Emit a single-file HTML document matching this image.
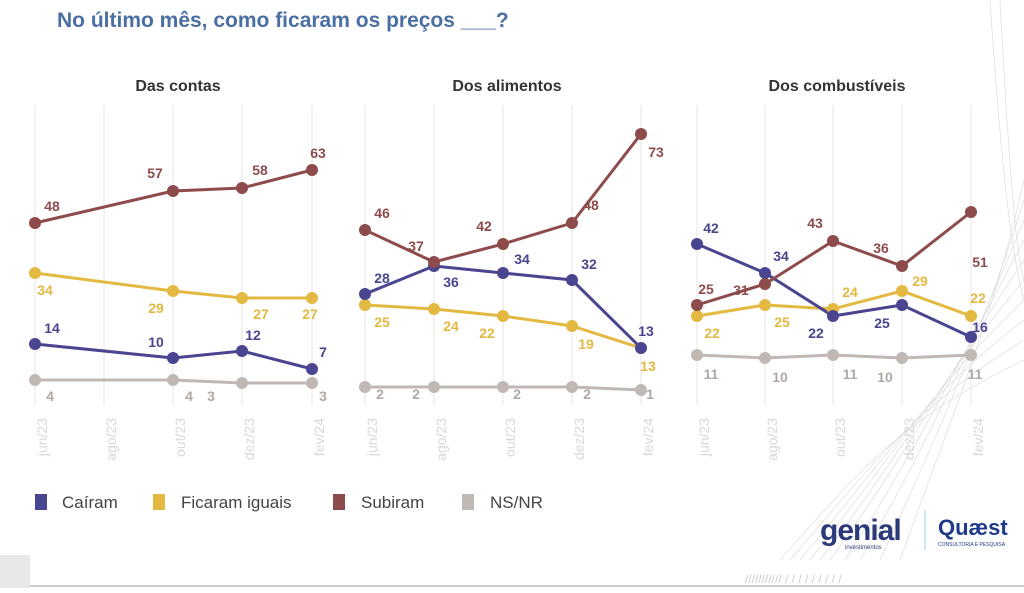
<!DOCTYPE html>
<html><head><meta charset="utf-8"><style>
body{margin:0;background:#fff;width:1024px;height:588px;overflow:hidden;font-family:"Liberation Sans",sans-serif}
</style></head><body>
<svg width="1024" height="588" viewBox="0 0 1024 588" xmlns="http://www.w3.org/2000/svg" font-family="Liberation Sans, sans-serif">
<rect width="1024" height="588" fill="#fff"/>
<!-- decorative curves bottom right -->
<g stroke="#d4d4d4" stroke-width="0.7" fill="none" opacity="0.8">
<path d="M780 560 C860 470 900 420 1024 360"/><path d="M790 560 C870 468 910 410 1024 340"/>
<path d="M800 560 C880 465 920 400 1024 320"/><path d="M810 560 C890 460 930 390 1024 300"/>
<path d="M820 560 C900 455 940 380 1024 280"/><path d="M830 560 C910 450 950 370 1024 260"/>
<path d="M845 560 C920 445 960 360 1024 240"/><path d="M860 560 C930 440 970 350 1024 220"/>
<path d="M880 560 C940 430 980 340 1024 200"/><path d="M900 560 C950 420 990 330 1024 180"/>
<path d="M990 0 C1000 150 1010 250 1024 300"/><path d="M1000 0 C1008 150 1015 250 1024 280"/>
</g>
<text x="57" y="27" font-size="21" font-weight="bold" fill="#4a6fa5">No último mês, como ficaram os preços ___?</text>
<g font-size="16" font-weight="bold" fill="#333" text-anchor="middle">
<text x="178" y="91">Das contas</text><text x="507" y="91">Dos alimentos</text><text x="837" y="91">Dos combustíveis</text>
</g>
<!-- grid -->
<g stroke="#e6e6e6" stroke-width="1">
<line x1="35" y1="105" x2="35" y2="405"/><line x1="104" y1="105" x2="104" y2="405"/><line x1="173" y1="105" x2="173" y2="405"/><line x1="242" y1="105" x2="242" y2="405"/><line x1="312" y1="105" x2="312" y2="405"/>
<line x1="365" y1="105" x2="365" y2="405"/><line x1="434" y1="105" x2="434" y2="405"/><line x1="503" y1="105" x2="503" y2="405"/><line x1="572" y1="105" x2="572" y2="405"/><line x1="641" y1="105" x2="641" y2="405"/>
<line x1="697" y1="105" x2="697" y2="405"/><line x1="765" y1="105" x2="765" y2="405"/><line x1="833" y1="105" x2="833" y2="405"/><line x1="902" y1="105" x2="902" y2="405"/><line x1="971" y1="105" x2="971" y2="405"/>
</g>
<!-- tick labels -->
<g font-size="14" fill="#d8d8d8" text-anchor="end">
<text transform="translate(47,418) rotate(-90)">jun/23</text><text transform="translate(116,418) rotate(-90)">ago/23</text><text transform="translate(185,418) rotate(-90)">out/23</text><text transform="translate(254,418) rotate(-90)">dez/23</text><text transform="translate(324,418) rotate(-90)">fev/24</text>
<text transform="translate(377,418) rotate(-90)">jun/23</text><text transform="translate(446,418) rotate(-90)">ago/23</text><text transform="translate(515,418) rotate(-90)">out/23</text><text transform="translate(584,418) rotate(-90)">dez/23</text><text transform="translate(653,418) rotate(-90)">fev/24</text>
<text transform="translate(709,418) rotate(-90)">jun/23</text><text transform="translate(777,418) rotate(-90)">ago/23</text><text transform="translate(845,418) rotate(-90)">out/23</text><text transform="translate(914,418) rotate(-90)">dez/23</text><text transform="translate(983,418) rotate(-90)">fev/24</text>
</g>
<!-- series: y = 394 - 3.56v -->
<g fill="none" stroke-width="3">
<!-- Contas -->
<polyline stroke="#c0b8b4" points="35,380 173,380 242,383 312,383"/>
<polyline stroke="#4a4590" points="35,344 173,358 242,351 312,369"/>
<polyline stroke="#e3b941" points="35,273 173,291 242,298 312,298"/>
<polyline stroke="#8e4b4b" points="35,223 173,191 242,188 312,170"/>
<!-- Alimentos -->
<polyline stroke="#c0b8b4" points="365,387 434,387 503,387 572,387 641,390"/>
<polyline stroke="#e3b941" points="365,305 434,309 503,316 572,326 641,348"/>
<polyline stroke="#4a4590" points="365,294 434,266 503,273 572,280 641,348"/>
<polyline stroke="#8e4b4b" points="365,230 434,262 503,244 572,223 641,134"/>
<!-- Combustiveis -->
<polyline stroke="#c0b8b4" points="697,355 765,358 833,355 902,358 971,355"/>
<polyline stroke="#e3b941" points="697,316 765,305 833,309 902,291 971,316"/>
<polyline stroke="#4a4590" points="697,244 765,273 833,316 902,305 971,337"/>
<polyline stroke="#8e4b4b" points="697,305 765,284 833,241 902,266 971,212"/>
</g>
<g>
<g fill="#c0b8b4"><circle cx="35" cy="380" r="6"/><circle cx="173" cy="380" r="6"/><circle cx="242" cy="383" r="6"/><circle cx="312" cy="383" r="6"/>
<circle cx="365" cy="387" r="6"/><circle cx="434" cy="387" r="6"/><circle cx="503" cy="387" r="6"/><circle cx="572" cy="387" r="6"/><circle cx="641" cy="390" r="6"/>
<circle cx="697" cy="355" r="6"/><circle cx="765" cy="358" r="6"/><circle cx="833" cy="355" r="6"/><circle cx="902" cy="358" r="6"/><circle cx="971" cy="355" r="6"/></g>
<g fill="#e3b941"><circle cx="35" cy="273" r="6"/><circle cx="173" cy="291" r="6"/><circle cx="242" cy="298" r="6"/><circle cx="312" cy="298" r="6"/>
<circle cx="365" cy="305" r="6"/><circle cx="434" cy="309" r="6"/><circle cx="503" cy="316" r="6"/><circle cx="572" cy="326" r="6"/><circle cx="641" cy="348" r="6"/>
<circle cx="697" cy="316" r="6"/><circle cx="765" cy="305" r="6"/><circle cx="833" cy="309" r="6"/><circle cx="902" cy="291" r="6"/><circle cx="971" cy="316" r="6"/></g>
<g fill="#4a4590"><circle cx="35" cy="344" r="6"/><circle cx="173" cy="358" r="6"/><circle cx="242" cy="351" r="6"/><circle cx="312" cy="369" r="6"/>
<circle cx="365" cy="294" r="6"/><circle cx="434" cy="266" r="6"/><circle cx="503" cy="273" r="6"/><circle cx="572" cy="280" r="6"/><circle cx="641" cy="348" r="6"/>
<circle cx="697" cy="244" r="6"/><circle cx="765" cy="273" r="6"/><circle cx="833" cy="316" r="6"/><circle cx="902" cy="305" r="6"/><circle cx="971" cy="337" r="6"/></g>
<g fill="#8e4b4b"><circle cx="35" cy="223" r="6"/><circle cx="173" cy="191" r="6"/><circle cx="242" cy="188" r="6"/><circle cx="312" cy="170" r="6"/>
<circle cx="365" cy="230" r="6"/><circle cx="434" cy="262" r="6"/><circle cx="503" cy="244" r="6"/><circle cx="572" cy="223" r="6"/><circle cx="641" cy="134" r="6"/>
<circle cx="697" cy="305" r="6"/><circle cx="765" cy="284" r="6"/><circle cx="833" cy="241" r="6"/><circle cx="902" cy="266" r="6"/><circle cx="971" cy="212" r="6"/></g>
</g>
<!-- labels -->
<g font-size="14" font-weight="bold" text-anchor="middle" dominant-baseline="central">
<g fill="#8e4b4b"><text x="52" y="206">48</text><text x="155" y="173">57</text><text x="260" y="170">58</text><text x="318" y="153">63</text>
<text x="382" y="213">46</text><text x="416" y="246">37</text><text x="484" y="226">42</text><text x="591" y="205">48</text><text x="656" y="152">73</text>
<text x="706" y="289">25</text><text x="741" y="290">31</text><text x="815" y="223">43</text><text x="881" y="248">36</text><text x="980" y="262">51</text></g>
<g fill="#e3b941"><text x="45" y="290">34</text><text x="156" y="308">29</text><text x="261" y="314">27</text><text x="310" y="314">27</text>
<text x="382" y="322">25</text><text x="451" y="326">24</text><text x="487" y="333">22</text><text x="586" y="344">19</text><text x="648" y="366">13</text>
<text x="712" y="333">22</text><text x="782" y="322">25</text><text x="850" y="292">24</text><text x="920" y="281">29</text><text x="978" y="298">22</text></g>
<g fill="#4a4590"><text x="52" y="328">14</text><text x="156" y="342">10</text><text x="253" y="335">12</text><text x="323" y="352">7</text>
<text x="382" y="278">28</text><text x="451" y="282">36</text><text x="522" y="259">34</text><text x="589" y="264">32</text><text x="646" y="331">13</text>
<text x="711" y="228">42</text><text x="781" y="256">34</text><text x="816" y="333">22</text><text x="882" y="323">25</text><text x="980" y="327">16</text></g>
<g fill="#b0a8a4"><text x="50" y="396">4</text><text x="189" y="396">4</text><text x="211" y="396">3</text><text x="323" y="396">3</text>
<text x="380" y="394">2</text><text x="416" y="394">2</text><text x="517" y="394">2</text><text x="587" y="394">2</text><text x="650" y="394">1</text>
<text x="711" y="374">11</text><text x="780" y="377">10</text><text x="850" y="374">11</text><text x="885" y="377">10</text><text x="975" y="374">11</text></g>
</g>
<!-- legend -->
<g font-size="17" fill="#444">
<rect x="35" y="494" width="12" height="16" fill="#4a4590"/><text x="62" y="508">Caíram</text>
<rect x="153" y="494" width="12" height="16" fill="#e3b941"/><text x="181" y="508">Ficaram iguais</text>
<rect x="333" y="494" width="12" height="16" fill="#8e4b4b"/><text x="361" y="508">Subiram</text>
<rect x="462" y="494" width="12" height="16" fill="#c0b8b4"/><text x="490" y="508">NS/NR</text>
</g>
<!-- logos -->
<text x="820" y="540" font-size="30" fill="#2b3a7a" font-weight="bold" letter-spacing="-1">genial</text>
<text x="845" y="549" font-size="6" fill="#2b3a7a">investimentos</text>
<line x1="925" y1="510" x2="925" y2="550" stroke="#9fd4da" stroke-width="1"/>
<text x="938" y="535" font-size="22" fill="#1e3a8a" font-weight="bold">Quæst</text>
<text x="938" y="546" font-size="5" fill="#1e3a8a">CONSULTORIA E PESQUISA</text>
<!-- bottom -->
<rect x="0" y="555" width="30" height="33" fill="#e8e8e8"/>
<line x1="30" y1="586" x2="1024" y2="586" stroke="#ccc" stroke-width="2"/>
<text x="745" y="583" font-size="12" fill="#ccc">///////////  /  /  /  /  /  /  /  /  /</text>
</svg>
</body></html>
